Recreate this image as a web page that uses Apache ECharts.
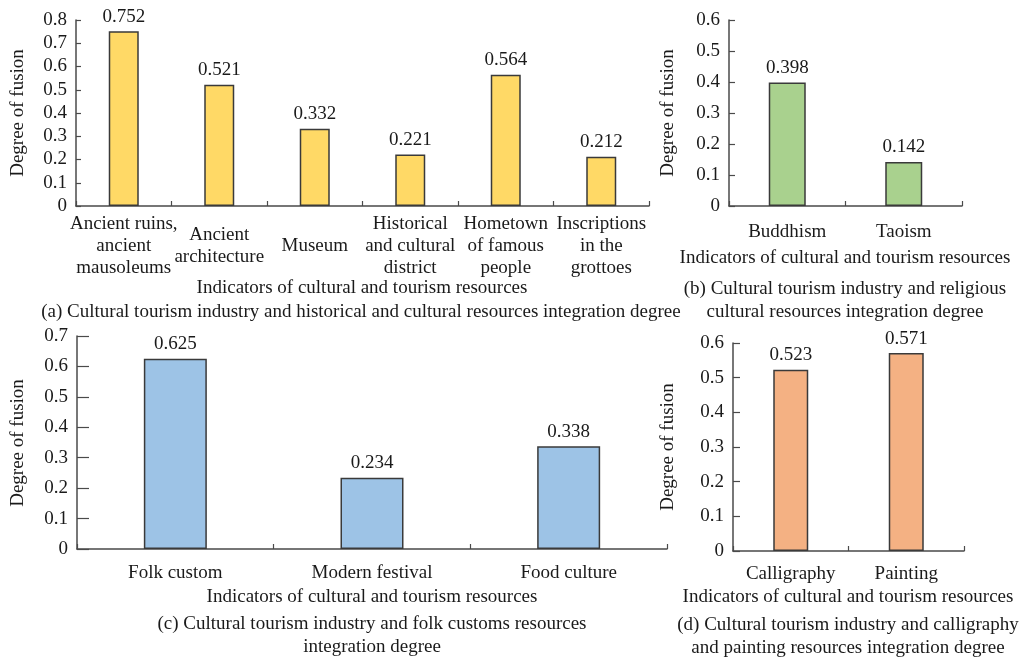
<!DOCTYPE html>
<html>
<head>
<meta charset="utf-8">
<script src="https://cdn.jsdelivr.net/npm/echarts@6/dist/echarts.min.js"></script>
<style>
  html, body { margin: 0; padding: 0; background: #fff; }
  #chart { width: 1027px; height: 661px; }
</style>
</head>
<body>
<div id="chart"></div>
<script>
// (a) historical and cultural resources
const histCategories = [
  'Ancient ruins,\nancient\nmausoleums',
  'Ancient\narchitecture',
  'Museum',
  'Historical\nand cultural\ndistrict',
  'Hometown\nof famous\npeople',
  'Inscriptions\nin the\ngrottoes'
];
const histValues = [0.752, 0.521, 0.332, 0.221, 0.564, 0.212];

// (b) religious cultural resources
const religCategories = ['Buddhism', 'Taoism'];
const religValues = [0.398, 0.142];

// (c) folk customs resources
const folkCategories = ['Folk custom', 'Modern festival', 'Food culture'];
const folkValues = [0.625, 0.234, 0.338];

// (d) calligraphy and painting resources
const artCategories = ['Calligraphy', 'Painting'];
const artValues = [0.523, 0.571];

const yTitle = 'Degree of fusion';
const xTitle = 'Indicators of cultural and tourism resources';
const captions = [
  '(a) Cultural tourism industry and historical and cultural resources integration degree',
  '(b) Cultural tourism industry and religious\ncultural resources integration degree',
  '(c) Cultural tourism industry and folk customs resources\nintegration degree',
  '(d) Cultural tourism industry and calligraphy\nand painting resources integration degree'
];

const FONT = '"Liberation Serif", "Times New Roman", serif';
const FS = 19;
const TEXT = '#1a1a1a';
const AXIS = '#4a4a4a';

const grids = [
  { left: 76, top: 20, width: 573, height: 186 },
  { left: 729, top: 20, width: 233, height: 186 },
  { left: 77, top: 336, width: 590, height: 213 },
  { left: 733, top: 343, width: 231, height: 208 }
];
const yMax = [0.8, 0.6, 0.7, 0.6];
const yTickLen = [5, 6, 12, 7];
const catSets = [histCategories, religCategories, folkCategories, artCategories];
const valSets = [histValues, religValues, folkValues, artValues];
const colors = ['#FFD966', '#A9D18E', '#9DC3E6', '#F4B183'];
const barW = [30, 37, 63, 35];
const labelMargin = [40, 26, 24, 23];

const xAxes = grids.map((g, i) => ({
  type: 'category',
  gridIndex: i,
  data: catSets[i],
  boundaryGap: true,
  axisLine: { lineStyle: { color: AXIS, width: 1.5 } },
  axisTick: { show: true, inside: true, length: 5, lineStyle: { color: AXIS, width: 1.2 } },
  axisLabel: {
    interval: 0, margin: labelMargin[i], verticalAlign: 'middle',
    color: TEXT, fontFamily: FONT, fontSize: FS, lineHeight: 22
  },
  splitLine: { show: false }
}));

const yAxes = grids.map((g, i) => ({
  type: 'value',
  gridIndex: i,
  min: 0, max: yMax[i], interval: 0.1,
  axisLine: { show: true, lineStyle: { color: AXIS, width: 1.5 } },
  axisTick: { show: true, inside: true, length: yTickLen[i], lineStyle: { color: AXIS, width: 1.2 } },
  axisLabel: {
    margin: 9, color: TEXT, fontFamily: FONT, fontSize: FS,
    formatter: v => (Math.round(v * 10) / 10).toString()
  },
  splitLine: { show: false }
}));

const series = grids.map((g, i) => ({
  type: 'bar',
  xAxisIndex: i, yAxisIndex: i,
  data: valSets[i],
  barWidth: barW[i],
  itemStyle: { color: colors[i], borderColor: '#3a3a3a', borderWidth: 1.5 },
  label: {
    show: true, position: 'top', distance: 5,
    color: TEXT, fontFamily: FONT, fontSize: FS,
    formatter: p => p.value.toFixed(3)
  }
}));

// Axis titles and panel captions
const txt = (x, y, text, extra) => Object.assign({
  type: 'text', x: x, y: y,
  style: {
    text: text, fill: TEXT, font: FS + 'px ' + FONT,
    textAlign: 'center', textVerticalAlign: 'middle', lineHeight: 23
  }
}, extra || {});

const graphic = [
  // y-axis titles
  txt(18, 113, yTitle, { rotation: Math.PI / 2 }),
  txt(668, 113, yTitle, { rotation: Math.PI / 2 }),
  txt(18, 443, yTitle, { rotation: Math.PI / 2 }),
  txt(668, 447, yTitle, { rotation: Math.PI / 2 }),
  // x-axis titles
  txt(362, 288, xTitle),
  txt(845, 258, xTitle),
  txt(372, 597, xTitle),
  txt(848, 597, xTitle),
  // captions
  txt(361, 312, captions[0]),
  txt(845, 301, captions[1]),
  txt(372, 636, captions[2]),
  txt(848, 637, captions[3])
];

const chart = echarts.init(document.getElementById('chart'), null, { renderer: 'canvas' });
chart.setOption({
  backgroundColor: '#fff',
  animation: false,
  textStyle: { fontFamily: FONT },
  grid: grids,
  xAxis: xAxes,
  yAxis: yAxes,
  series: series,
  graphic: graphic
});
</script>
</body>
</html>
